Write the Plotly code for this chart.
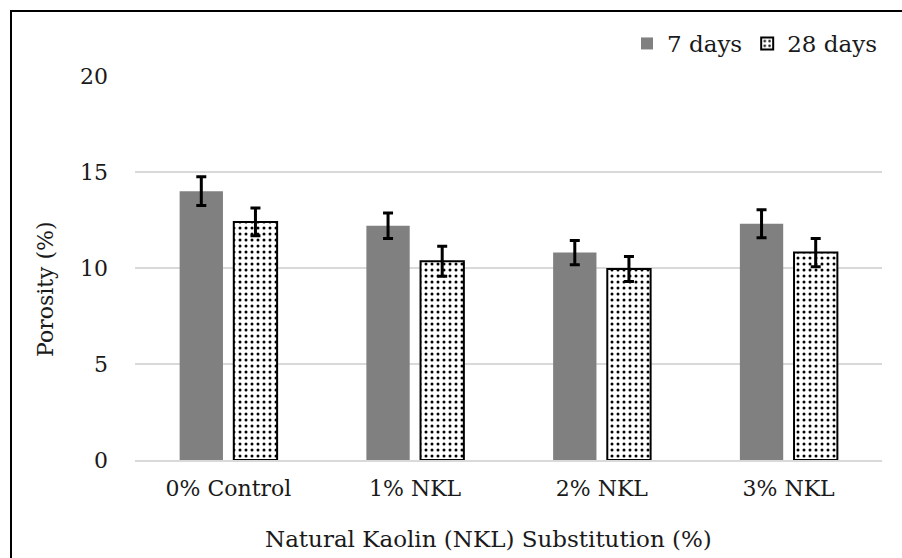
import plotly.graph_objects as go

# Porosity of mortar mixes with natural kaolin substitution
categories = ["0% Control", "1% NKL", "2% NKL", "3% NKL"]
porosity_7d = [14.0, 12.2, 10.8, 12.3]
error_7d = [0.75, 0.66, 0.63, 0.73]
porosity_28d = [12.4, 10.35, 9.95, 10.8]
error_28d = [0.72, 0.78, 0.65, 0.74]
y_ticks = [0, 5, 10, 15, 20]

FONT = "DejaVu Serif"
TXT = "#1a1a1a"
FS = 22
FS_TITLE = 23
W, H = 902, 558
M_L, M_R, M_T, M_B = 135, 20, 75, 98
PW, PH = W - M_L - M_R, H - M_T - M_B


def px_x(x):
    return (x - M_L) / PW


def px_y(y):
    return 1 - (y - M_T) / PH


fig = go.Figure()

fig.add_trace(go.Bar(
    name="7 days",
    x=categories,
    y=porosity_7d,
    marker=dict(color="#808080", line=dict(width=0)),
    error_y=dict(type="data", array=error_7d, visible=True,
                 color="black", thickness=3, width=5),
))

fig.add_trace(go.Bar(
    name="28 days",
    x=categories,
    y=porosity_28d,
    marker=dict(
        color="white",
        line=dict(color="black", width=2),
        pattern=dict(shape=".", fgcolor="black", bgcolor="white",
                     size=6, solidity=0.2, fillmode="replace"),
    ),
    error_y=dict(type="data", array=error_28d, visible=True,
                 color="black", thickness=3, width=5),
))

fig.update_layout(
    width=W,
    height=H,
    margin=dict(l=M_L, r=M_R, t=M_T, b=M_B, autoexpand=False),
    paper_bgcolor="white",
    plot_bgcolor="white",
    font=dict(family=FONT, size=FS, color=TXT),
    barmode="group",
    bargap=0.42,
    bargroupgap=0.2,
    showlegend=True,
    legend=dict(
        orientation="h",
        x=1.0, xanchor="right",
        y=1 - 22 / H, yref="container", yanchor="top",
        font=dict(family=FONT, size=FS_TITLE, color=TXT),
        bgcolor="rgba(0,0,0,0)",
        tracegroupgap=0,
    ),
    xaxis=dict(
        showgrid=False,
        showline=True,
        linecolor="#d9d9d9",
        linewidth=2,
        ticks="",
        ticklabelstandoff=8,
        tickfont=dict(family=FONT, size=FS, color=TXT),
    ),
    yaxis=dict(
        range=[0, 20.05],
        tickvals=y_ticks,
        showgrid=True,
        gridcolor="#d9d9d9",
        gridwidth=1.5,
        zeroline=False,
        showline=False,
        ticks="",
        ticklabelstandoff=26,
        tickfont=dict(family=FONT, size=FS, color=TXT),
    ),
    annotations=[
        dict(
            text="Porosity (%)",
            textangle=-90,
            xref="paper", yref="paper",
            x=px_x(45), xanchor="center",
            y=px_y(289), yanchor="middle",
            showarrow=False,
            font=dict(family=FONT, size=FS, color=TXT),
        ),
        dict(
            text="Natural Kaolin (NKL) Substitution (%)",
            xref="paper", yref="paper",
            x=px_x(488), xanchor="center",
            y=px_y(539), yanchor="middle",
            showarrow=False,
            font=dict(family=FONT, size=FS_TITLE, color=TXT),
        ),
    ],
    shapes=[
        # outer frame of the chart area
        dict(
            type="rect",
            xref="paper", yref="paper",
            x0=px_x(11), x1=px_x(W + 30),
            y0=px_y(H + 30), y1=px_y(11),
            line=dict(color="black", width=2),
            fillcolor="rgba(0,0,0,0)",
            layer="below",
        )
    ],
)

fig.write_html("out.html")
